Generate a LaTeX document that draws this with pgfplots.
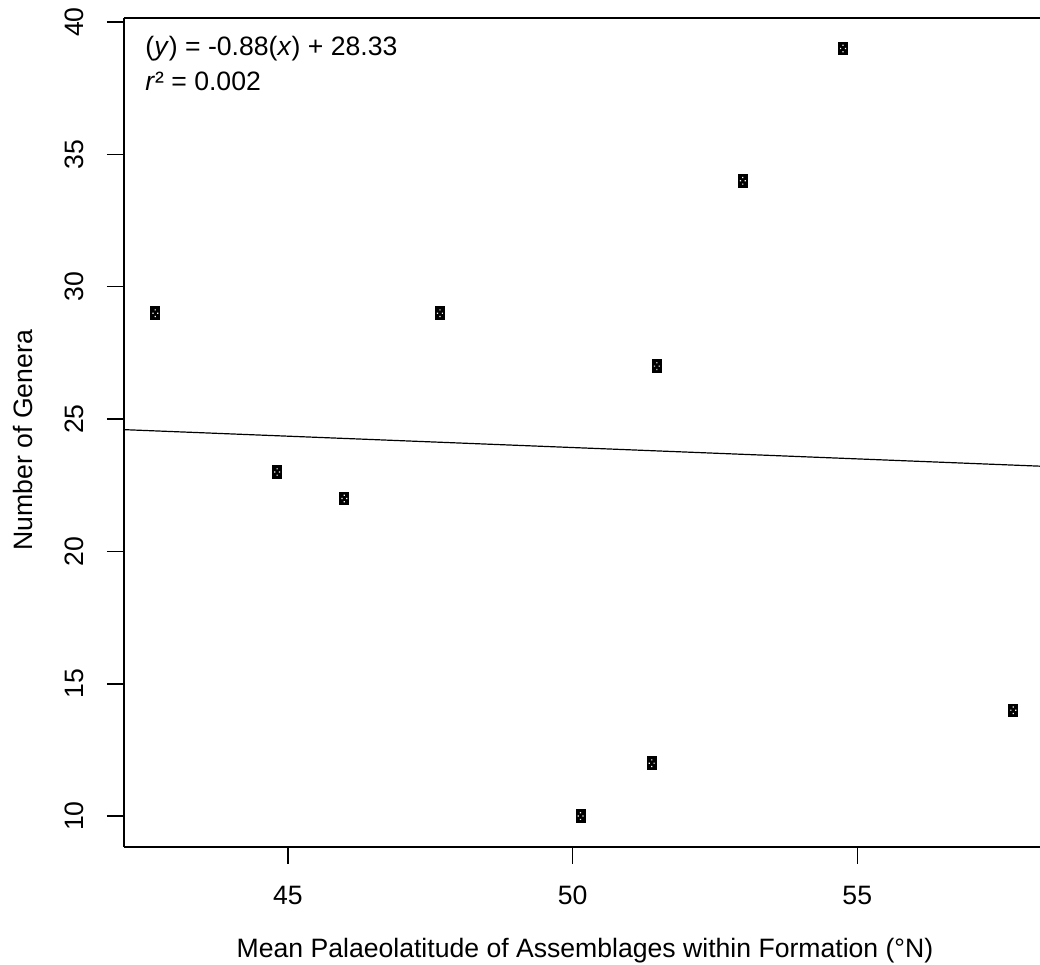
\documentclass[border=0pt]{standalone}
\usepackage{fontspec}
\setmainfont{Liberation Sans}
\usepackage{pgfplots}
\usepackage{pgfplotstable}
\pgfplotsset{compat=1.18}

% small filled box with four white pin-holes
\pgfdeclareplotmark{dotbox}{%
  \pgfsetfillcolor{black}%
  \pgfpathrectangle{\pgfpoint{-2.5pt}{-3.35pt}}{\pgfpoint{5pt}{6.7pt}}%
  \pgfusepathqfill
  \pgfsetfillcolor{white}%
  \pgfpathrectangle{\pgfpoint{-0.3pt}{1.35pt}}{\pgfpoint{0.6pt}{0.6pt}}%
  \pgfpathrectangle{\pgfpoint{-0.3pt}{-1.95pt}}{\pgfpoint{0.6pt}{0.6pt}}%
  \pgfpathrectangle{\pgfpoint{-1.5pt}{-0.3pt}}{\pgfpoint{0.6pt}{0.6pt}}%
  \pgfpathrectangle{\pgfpoint{0.9pt}{-0.3pt}}{\pgfpoint{0.6pt}{0.6pt}}%
  \pgfusepathqfill
}

\pgfplotstableread{
lat    genera
42.67  29
44.81  23
45.99  22
47.67  29
50.14  10
51.39  12
51.48  27
52.99  34
54.75  39
57.74  14
}\generatab

\begin{document}
\begin{tikzpicture}[font=\fontsize{13.3}{16}\selectfont]
\useasboundingbox (-62pt,-58.65pt) rectangle (458pt,423.4pt);
\begin{axis}[
  scale only axis,
  width=458pt, height=414.5pt,
  xmin=42.12, xmax=58.21, ymin=8.84, ymax=40.16,
  axis x line*=box, axis y line*=left,
  xtick={45,50,55},
  ytick={10,15,20,25,30,35,40},
  tick align=outside,
  xtick pos=left, ytick pos=left,
  major tick length=8.5pt,
  axis line style={line width=0.75pt},
  every tick/.style={black, line width=0.75pt},
  /pgf/number format/assume math mode=true,
  xticklabel style={anchor=base, inner sep=0pt, yshift=-20.5pt},
  yticklabel style={xshift=-11.85pt, rotate=90, anchor=base, inner sep=0pt},
  xlabel={Mean Palaeolatitude of Assemblages within Formation (°N)},
  ylabel={Number of Genera},
  every axis x label/.style={at={(axis description cs:0.5,0)}, xshift=1.5pt, yshift=-55.5pt, anchor=base, inner sep=0pt},
  every axis y label/.style={at={(axis description cs:0,0.5)}, xshift=-45.5pt, yshift=-4pt, rotate=90, anchor=base, inner sep=0pt},
  clip=false,
]
\addplot[only marks, mark=dotbox] table[x=lat, y=genera] {\generatab};
\addplot[black, line width=0.6pt] coordinates {(42.12,24.60) (58.21,23.22)};
\node[anchor=base west, inner sep=0pt, xshift=10.5pt, yshift=-19.1pt] at (rel axis cs:0,1)
  {(\textit{y}) = -0.88(\textit{x}) + 28.33};
\node[anchor=base west, inner sep=0pt, xshift=10.5pt, yshift=-36.6pt] at (rel axis cs:0,1)
  {\textit{r}² = 0.002};
\end{axis}
\end{tikzpicture}
\end{document}
